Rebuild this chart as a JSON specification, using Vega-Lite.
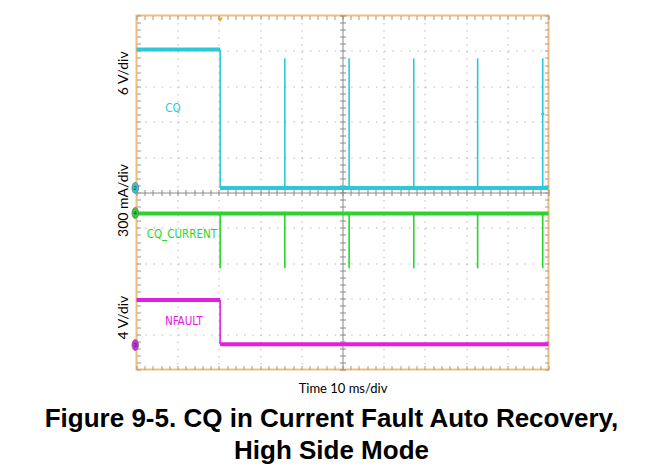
{
  "$schema": "https://vega.github.io/schema/vega-lite/v6.json",
  "width": 412,
  "height": 354,
  "autosize": "none",
  "padding": {"left": 136.5, "top": 15.5, "right": 115.5, "bottom": 100.5},
  "background": "white",
  "config": {
    "view": {"stroke": "#efbf7a", "strokeWidth": 2},
    "axis": {"labelColor": "black", "titleColor": "black"}
  },
  "title": {
    "text": ["Figure 9-5. CQ in Current Fault Auto Recovery,", "High Side Mode"],
    "orient": "bottom",
    "anchor": "middle",
    "dx": -11,
    "offset": 11,
    "font": "Liberation Sans",
    "fontSize": 26,
    "fontWeight": "bold",
    "lineHeight": 32,
    "color": "black"
  },
  "datasets": {
    "traces": [
      {"series": "CQ", "seg": "cq_high", "t": 0, "v": 9.04},
      {"series": "CQ", "seg": "cq_high", "t": 20.3, "v": 9.04},
      {"series": "CQ", "seg": "cq_low", "t": 20.3, "v": 5.13},
      {"series": "CQ", "seg": "cq_low", "t": 100, "v": 5.13},
      {"series": "CQ_CURRENT", "seg": "cur", "t": 0, "v": 4.41},
      {"series": "CQ_CURRENT", "seg": "cur", "t": 100, "v": 4.41},
      {"series": "NFAULT", "seg": "nf_high", "t": 0, "v": 1.96},
      {"series": "NFAULT", "seg": "nf_high", "t": 20.3, "v": 1.96},
      {"series": "NFAULT", "seg": "nf_low", "t": 20.3, "v": 0.71},
      {"series": "NFAULT", "seg": "nf_low", "t": 100, "v": 0.71}
    ],
    "edges": [
      {"series": "CQ", "t": 20.3, "v1": 9.04, "v2": 5.13},
      {"series": "CQ", "t": 36.0, "v1": 5.13, "v2": 8.79},
      {"series": "CQ", "t": 51.6, "v1": 5.13, "v2": 8.79},
      {"series": "CQ", "t": 67.3, "v1": 5.13, "v2": 8.79},
      {"series": "CQ", "t": 82.8, "v1": 5.13, "v2": 8.79},
      {"series": "CQ", "t": 98.6, "v1": 5.13, "v2": 8.79},
      {"series": "CQ_CURRENT", "t": 20.3, "v1": 4.41, "v2": 2.86},
      {"series": "CQ_CURRENT", "t": 36.0, "v1": 4.41, "v2": 2.86},
      {"series": "CQ_CURRENT", "t": 51.6, "v1": 4.41, "v2": 2.86},
      {"series": "CQ_CURRENT", "t": 67.3, "v1": 4.41, "v2": 2.86},
      {"series": "CQ_CURRENT", "t": 82.8, "v1": 4.41, "v2": 2.86},
      {"series": "CQ_CURRENT", "t": 98.6, "v1": 4.41, "v2": 2.86},
      {"series": "NFAULT", "t": 20.3, "v1": 1.96, "v2": 0.71}
    ],
    "labels": [
      {"series": "CQ", "text": "CQ", "t": 8.86, "v": 7.36},
      {"series": "CQ_CURRENT", "text": "CQ_CURRENT", "t": 11.0, "v": 3.79},
      {"series": "NFAULT", "text": "NFAULT", "t": 11.5, "v": 1.33}
    ],
    "markers": [
      {"series": "CQ", "ch": "2", "t": -0.3, "v": 5.13},
      {"series": "CQ_CURRENT", "ch": "4", "t": -0.3, "v": 4.42},
      {"series": "NFAULT", "ch": "3", "t": -0.3, "v": 0.69}
    ],
    "indicators": [
      {"kind": "trigger", "t": 20.3, "v": 9.88},
      {"kind": "level", "t": 98.6, "v": 7.22}
    ],
    "scalelabels": [
      {"text": "6 V/div", "v": 8.38},
      {"text": "300 mA/div", "v": 4.79},
      {"text": "4 V/div", "v": 1.48}
    ]
  },
  "resolve": {"axis": {"x": "independent", "y": "independent"}},
  "layer": [
    {
      "data": {"name": "labels"},
      "mark": {"type": "text", "font": "Liberation Sans Narrow, DejaVu Sans Condensed, sans-serif", "fontSize": 11.5, "align": "center", "baseline": "middle"},
      "encoding": {
        "x": {"field": "t", "type": "quantitative", "scale": {"domain": [0, 100], "nice": false},
          "axis": {"orient": "bottom", "values": [10, 20, 30, 40, 60, 70, 80, 90], "grid": true, "gridColor": "#b8b8b8", "gridDash": [1.5, 5.58], "gridWidth": 1, "ticks": false, "labels": false, "domain": false, "title": null}},
        "y": {"field": "v", "type": "quantitative", "scale": {"domain": [0, 10], "nice": false},
          "axis": {"orient": "left", "values": [1, 2, 3, 4, 6, 7, 8, 9], "grid": true, "gridColor": "#b8b8b8", "gridDash": [1.5, 6.74], "gridWidth": 1, "ticks": false, "labels": false, "domain": false, "title": null}},
        "text": {"field": "text"},
        "color": {"field": "series", "type": "nominal", "scale": {"domain": ["CQ", "CQ_CURRENT", "NFAULT"], "range": ["#2cc8d8", "#2ad42a", "#e020e0"]}, "legend": null}
      }
    },
    {
      "data": {"name": "traces"},
      "mark": {"type": "line", "strokeWidth": 4, "interpolate": "linear"},
      "encoding": {
        "x": {"field": "t", "type": "quantitative", "scale": {"domain": [0, 100], "nice": false},
          "axis": {"orient": "bottom", "tickCount": 50, "tickSize": -4, "tickColor": "#9a9a9a", "labels": false, "domain": false, "grid": false, "title": "Time 10 ms/div", "titleFont": "Lato", "titleFontSize": 13, "titleFontWeight": "normal", "titlePadding": 12}},
        "y": {"field": "v", "type": "quantitative", "scale": {"domain": [0, 10], "nice": false},
          "axis": {"orient": "left", "tickCount": 50, "tickSize": -4, "tickColor": "#9a9a9a", "labels": false, "domain": false, "grid": false, "title": null}},
        "detail": {"field": "seg"},
        "color": {"field": "series", "type": "nominal", "legend": null}
      }
    },
    {
      "data": {"name": "edges"},
      "mark": {"type": "rule", "strokeWidth": 1.6},
      "encoding": {
        "x": {"field": "t", "type": "quantitative", "scale": {"domain": [0, 100], "nice": false},
          "axis": {"orient": "top", "tickCount": 50, "tickSize": -4, "tickColor": "#9a9a9a", "labels": false, "domain": false, "grid": false, "title": null}},
        "y": {"field": "v1", "type": "quantitative", "scale": {"domain": [0, 10], "nice": false},
          "axis": {"orient": "right", "tickCount": 50, "tickSize": -4, "tickColor": "#9a9a9a", "labels": false, "domain": false, "grid": false, "title": null}},
        "y2": {"field": "v2"},
        "color": {"field": "series", "type": "nominal", "legend": null}
      }
    },
    {
      "data": {"name": "markers"},
      "mark": {"type": "point", "filled": true, "opacity": 1, "shape": "M -0.6 0 A 0.6 1 0 1 1 0.6 0 A 0.6 1 0 1 1 -0.6 0 Z", "size": 121, "strokeWidth": 0.8, "stroke": "#777"},
      "encoding": {
        "x": {"field": "t", "type": "quantitative", "scale": {"domain": [0, 100], "nice": false},
          "axis": {"orient": "bottom", "offset": -177, "tickCount": 50, "tickSize": 3, "tickColor": "#8a8a8a", "domain": true, "domainColor": "#8a8a8a", "labels": false, "grid": false, "title": null}},
        "y": {"field": "v", "type": "quantitative", "scale": {"domain": [0, 10], "nice": false},
          "axis": {"orient": "left", "offset": -206, "tickCount": 50, "tickSize": 3, "tickColor": "#8a8a8a", "domain": true, "domainColor": "#8a8a8a", "labels": false, "grid": false, "title": null}},
        "color": {"field": "series", "type": "nominal", "legend": null}
      }
    },
    {
      "data": {"name": "markers"},
      "mark": {"type": "text", "fontSize": 6, "font": "Liberation Sans", "color": "#333", "align": "center", "baseline": "middle"},
      "encoding": {
        "x": {"field": "t", "type": "quantitative", "scale": {"domain": [0, 100], "nice": false},
          "axis": {"orient": "top", "offset": -177, "tickCount": 50, "tickSize": 3, "tickColor": "#8a8a8a", "domain": false, "labels": false, "grid": false, "title": null}},
        "y": {"field": "v", "type": "quantitative", "scale": {"domain": [0, 10], "nice": false},
          "axis": {"orient": "right", "offset": -206, "tickCount": 50, "tickSize": 3, "tickColor": "#8a8a8a", "domain": false, "labels": false, "grid": false, "title": null}},
        "text": {"field": "ch"}
      }
    },
    {
      "data": {"name": "indicators"},
      "mark": {"type": "point", "filled": true, "opacity": 1},
      "encoding": {
        "x": {"field": "t", "type": "quantitative", "scale": {"domain": [0, 100], "nice": false}, "axis": null},
        "y": {"field": "v", "type": "quantitative", "scale": {"domain": [0, 10], "nice": false}, "axis": null},
        "shape": {"field": "kind", "type": "nominal", "scale": {"domain": ["trigger", "level"], "range": ["triangle-down", "diamond"]}, "legend": null},
        "fill": {"field": "kind", "type": "nominal", "scale": {"domain": ["trigger", "level"], "range": ["#e8a33a", "#2cc8d8"]}, "legend": null},
        "size": {"field": "kind", "type": "nominal", "scale": {"domain": ["trigger", "level"], "range": [30, 16]}, "legend": null}
      }
    },
    {
      "data": {"name": "scalelabels"},
      "mark": {"type": "point", "opacity": 0},
      "encoding": {
        "y": {"field": "v", "type": "quantitative", "scale": {"domain": [0, 10], "nice": false},
          "axis": {"orient": "left", "values": [8.38, 4.79, 1.48], "labelExpr": "datum.value > 7 ? '6 V/div' : datum.value > 3 ? '300 mA/div' : '4 V/div'", "labelAngle": -90, "labelAlign": "center", "labelBaseline": "bottom", "labelPadding": 6, "labelFont": "Lato", "labelFontSize": 14, "labelColor": "black", "ticks": false, "domain": false, "grid": false, "title": null, "labelOverlap": false, "labelBound": false}}
      }
    }
  ]
}
